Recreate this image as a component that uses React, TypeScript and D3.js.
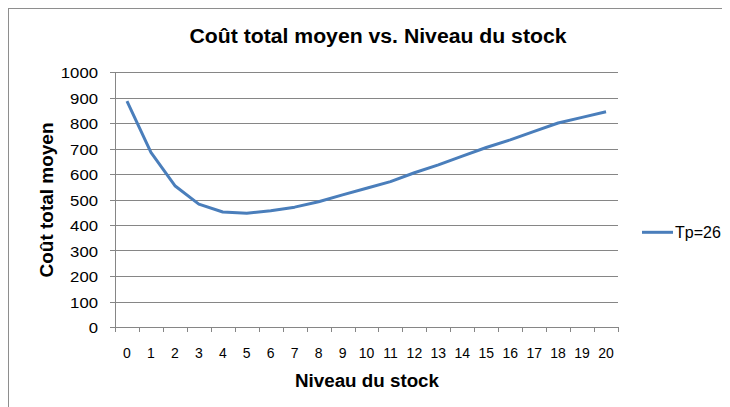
import React from "react";
import * as d3 from "d3";

// Niveau du stock (0..20) and the corresponding average total cost
const stockLevels: number[] = [0, 1, 2, 3, 4, 5, 6, 7, 8, 9, 10, 11, 12, 13, 14, 15, 16, 17, 18, 19, 20];
const avgCost: number[] = [886, 685, 554, 482, 451, 446, 456, 470, 491, 518, 544, 570, 605, 636, 670, 704, 734, 767, 800, 822, 844];
const yTicks: number[] = [0, 100, 200, 300, 400, 500, 600, 700, 800, 900, 1000];
const seriesName = "Tp=26";

const W = 730;
const H = 407;
const M = { left: 107, top: 64, right: 610, bottom: 319 };

export default function App() {
  const x = d3
    .scaleBand<number>()
    .domain(stockLevels)
    .range([M.left, M.right])
    .paddingInner(0)
    .paddingOuter(0);
  const y = d3.scaleLinear().domain([0, 1000]).range([M.bottom, M.top]);

  const line = d3
    .line<number>()
    .x((_, i) => (x(stockLevels[i]) as number) + x.bandwidth() / 2)
    .y((v) => y(v));

  const font = "'Liberation Sans', Arial, sans-serif";
  const tickEdges = [...stockLevels.map((s) => x(s) as number), M.right];

  return (
    <svg width={W - 8} height={H - 8} style={{ display: "block" }} fontFamily={font}>
      <rect x={0.5} y={0.5} width={W + 20} height={H + 20} fill="#fff" stroke="#8e8e8e" strokeWidth={1} />
      <text x={370} y={34.7} textAnchor="middle" fontSize={20} fontWeight="bold" fill="#000" textLength={377} lengthAdjust="spacingAndGlyphs">
        Coût total  moyen vs. Niveau du stock
      </text>

      {/* gridlines and y ticks */}
      {yTicks.map((t) => {
        const label = String(t);
        return (
          <g key={t}>
            <line x1={M.left - 5} x2={M.right} y1={Math.round(y(t)) + 0.5} y2={Math.round(y(t)) + 0.5} stroke="#868686" strokeWidth={1} />
            <text
              x={90}
              y={y(t) + 6}
              textAnchor="end"
              fontSize={14}
              fill="#000"
              textLength={label.length * 9.3}
              lengthAdjust="spacingAndGlyphs"
            >
              {label}
            </text>
          </g>
        );
      })}
      <line x1={M.left + 0.5} x2={M.left + 0.5} y1={M.top} y2={M.bottom} stroke="#868686" />

      {/* x ticks */}
      {tickEdges.map((e, i) => (
        <line key={i} x1={Math.round(e) + 0.5} x2={Math.round(e) + 0.5} y1={M.bottom} y2={M.bottom + 5} stroke="#868686" />
      ))}
      {stockLevels.map((s) => (
        <text key={s} x={(x(s) as number) + x.bandwidth() / 2} y={350.3} textAnchor="middle" fontSize={14} fill="#000">
          {s}
        </text>
      ))}

      <path d={line(avgCost) ?? ""} fill="none" stroke="#4a7ebb" strokeWidth={3} strokeLinejoin="round" />

      <text x={359} y={379} textAnchor="middle" fontSize={18} fontWeight="bold" fill="#000" textLength={144} lengthAdjust="spacingAndGlyphs">
        Niveau du stock
      </text>
      <text
        transform={`translate(45, ${(M.top + M.bottom) / 2 + 0.5}) rotate(-90)`}
        textAnchor="middle"
        fontSize={18}
        fontWeight="bold"
        fill="#000"
        textLength={155}
        lengthAdjust="spacingAndGlyphs"
      >
        Coût total moyen
      </text>

      {/* legend */}
      <line x1={634} x2={665} y1={224.3} y2={224.3} stroke="#4a7ebb" strokeWidth={3} />
      <text x={667} y={230.3} fontSize={16} fill="#000">
        {seriesName}
      </text>
    </svg>
  );
}
